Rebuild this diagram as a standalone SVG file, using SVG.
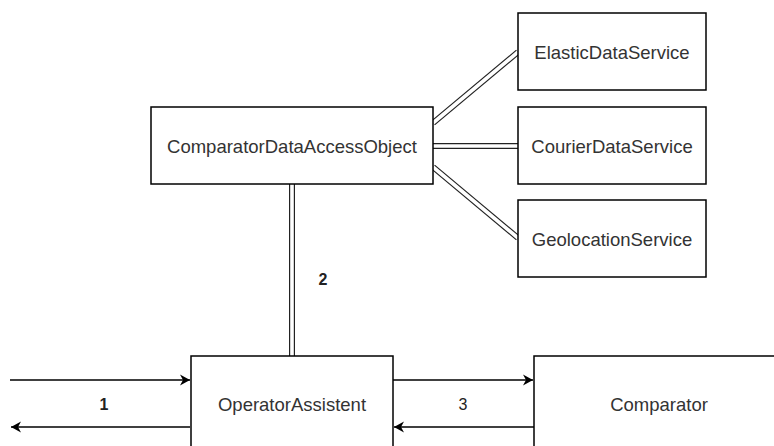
<svg xmlns="http://www.w3.org/2000/svg" width="774" height="446" viewBox="0 0 774 446">
  <style>
    .box { fill: #ffffff; stroke: #000000; stroke-width: 1.5; }
    .lbl { font-family: "Liberation Sans", Arial, Helvetica, sans-serif; font-size: 18.5px; fill: #333333; text-anchor: middle; dominant-baseline: central; }
    .num { font-family: "Liberation Sans", Arial, Helvetica, sans-serif; font-size: 16px; fill: #222222; text-anchor: middle; dominant-baseline: central; }
    .bold { font-weight: bold; }
    .link-outer { fill: none; stroke: #222222; stroke-width: 6; }
    .link-inner { fill: none; stroke: #ffffff; stroke-width: 3.6; }
    .flow { fill: none; stroke: #000000; stroke-width: 1.5; marker-end: url(#arrow); }
  </style>
  <defs>
    <marker id="arrow" markerUnits="userSpaceOnUse" markerWidth="12" markerHeight="12" viewBox="0 0 12 12" refX="11" refY="6" orient="auto">
      <path d="M1,0.5 L11,6 L1,11.5 L4,6 Z" fill="#000000"/>
    </marker>
  </defs>

  <rect width="774" height="446" fill="#ffffff"/>

  <!-- connectors -->
  <g id="connectors">
    <!-- double-line associations -->
    <path class="link-outer" d="M433,123 L518,52"/>
    <path class="link-inner" d="M433,123 L518,52"/>
    <path class="link-outer" d="M433,146 L518,146"/>
    <path class="link-inner" d="M431,146 L520,146"/>
    <path class="link-outer" d="M433,167 L518,238"/>
    <path class="link-inner" d="M433,167 L518,238"/>
    <path class="link-outer" d="M292,184 L292,356"/>
    <path class="link-inner" d="M292,182 L292,358"/>

    <!-- request / response arrows -->
    <path class="flow" d="M10,380 L190,380"/>
    <path class="flow" d="M190,427 L11,427"/>
    <path class="flow" d="M393,380 L533,380"/>
    <path class="flow" d="M534,427 L394,427"/>

    <text class="num bold" x="323" y="279">2</text>
    <text class="num bold" x="104" y="404">1</text>
    <text class="num" x="463" y="404">3</text>
  </g>

  <g id="comparatorDataAccessObject">
    <rect class="box" x="151" y="107" width="282" height="77"/>
    <text class="lbl" x="292" y="146">ComparatorDataAccessObject</text>
  </g>

  <g id="elasticDataService">
    <rect class="box" x="518" y="13" width="188" height="77"/>
    <text class="lbl" x="612" y="52">ElasticDataService</text>
  </g>

  <g id="courierDataService">
    <rect class="box" x="518" y="107" width="188" height="77"/>
    <text class="lbl" x="612" y="146">CourierDataService</text>
  </g>

  <g id="geolocationService">
    <rect class="box" x="518" y="200" width="188" height="77"/>
    <text class="lbl" x="612" y="239">GeolocationService</text>
  </g>

  <g id="operatorAssistent">
    <rect class="box" x="191" y="356" width="202" height="95"/>
    <text class="lbl" x="292" y="404">OperatorAssistent</text>
  </g>

  <g id="comparator">
    <rect class="box" x="534" y="356" width="250" height="95"/>
    <text class="lbl" x="659" y="404">Comparator</text>
  </g>
</svg>
